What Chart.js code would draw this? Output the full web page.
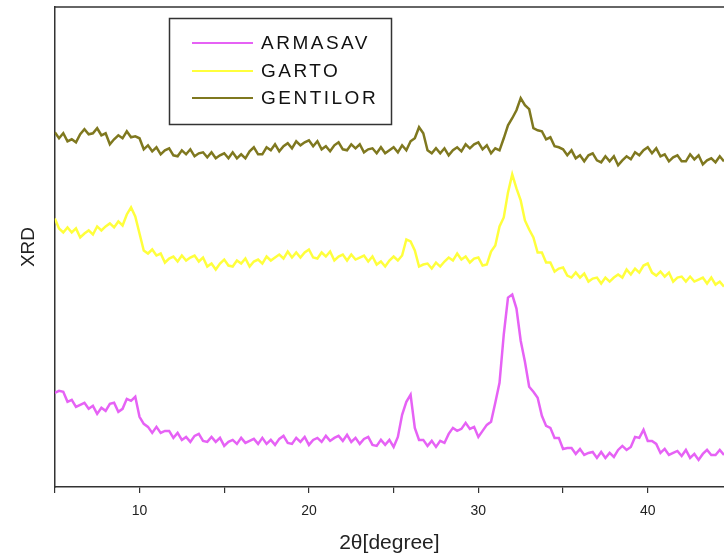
<!DOCTYPE html>
<html>
<head>
<meta charset="utf-8">
<script src="https://cdn.jsdelivr.net/npm/chart.js@4.4.0/dist/chart.umd.min.js"></script>
<style>
  html, body { margin: 0; padding: 0; background: #fff; }
  #wrap { width: 724px; height: 557px; }
</style>
</head>
<body>
<div id="wrap"><canvas id="myChart" width="724" height="557"></canvas></div>
<script>
// 2theta grid (degrees), 0.25 step
const twoTheta = [5, 5.25, 5.5, 5.75, 6, 6.25, 6.5, 6.75, 7, 7.25, 7.5, 7.75, 8, 8.25, 8.5, 8.75, 9, 9.25, 9.5, 9.75,
  10, 10.25, 10.5, 10.75, 11, 11.25, 11.5, 11.75, 12, 12.25, 12.5, 12.75, 13, 13.25, 13.5, 13.75, 14, 14.25, 14.5, 14.75,
  15, 15.25, 15.5, 15.75, 16, 16.25, 16.5, 16.75, 17, 17.25, 17.5, 17.75, 18, 18.25, 18.5, 18.75, 19, 19.25, 19.5, 19.75,
  20, 20.25, 20.5, 20.75, 21, 21.25, 21.5, 21.75, 22, 22.25, 22.5, 22.75, 23, 23.25, 23.5, 23.75, 24, 24.25, 24.5, 24.75,
  25, 25.25, 25.5, 25.75, 26, 26.25, 26.5, 26.75, 27, 27.25, 27.5, 27.75, 28, 28.25, 28.5, 28.75, 29, 29.25, 29.5, 29.75,
  30, 30.25, 30.5, 30.75, 31, 31.25, 31.5, 31.75, 32, 32.25, 32.5, 32.75, 33, 33.25, 33.5, 33.75, 34, 34.25, 34.5, 34.75,
  35, 35.25, 35.5, 35.75, 36, 36.25, 36.5, 36.75, 37, 37.25, 37.5, 37.75, 38, 38.25, 38.5, 38.75, 39, 39.25, 39.5, 39.75,
  40, 40.25, 40.5, 40.75, 41, 41.25, 41.5, 41.75, 42, 42.25, 42.5, 42.75, 43, 43.25, 43.5, 43.75, 44, 44.25, 44.5];

// intensities (arbitrary units, curves already offset as in the figure)
const armasav = [94, 96, 95, 85, 87, 80, 82, 84, 78, 81, 73, 79, 76, 83, 84, 75, 78, 88, 86, 90,
  70, 63, 60, 54, 60, 54, 56, 56, 49, 54, 47, 50, 45, 51, 53, 46, 45, 50, 45, 49,
  41, 45, 47, 43, 49, 44, 46, 48, 43, 49, 43, 47, 42, 48, 51, 44, 43, 49, 45, 50,
  42, 47, 49, 45, 51, 46, 49, 51, 46, 52, 45, 49, 43, 48, 50, 42, 41, 47, 42, 47,
  40, 50, 72, 85, 92, 59, 47, 47, 41, 46, 40, 46, 44, 53, 59, 56, 58, 64, 58, 60,
  50, 56, 62, 65, 84, 104, 152, 189, 192, 178, 146, 125, 100, 95, 89, 71, 61, 59, 49, 49,
  38, 39, 39, 33, 38, 32, 34, 35, 29, 35, 29, 34, 30, 37, 41, 37, 40, 50, 49, 57,
  46, 46, 43, 34, 38, 32, 34, 36, 31, 37, 29, 33, 27, 33, 37, 32, 32, 37, 32];

const garto = [268, 258, 254, 259, 254, 258, 249, 253, 256, 252, 260, 256, 260, 263, 259, 265, 261, 272, 279, 270,
  253, 236, 233, 237, 231, 233, 224, 228, 230, 225, 231, 226, 229, 231, 225, 229, 220, 223, 217, 223,
  227, 221, 220, 226, 223, 228, 220, 225, 227, 223, 230, 226, 229, 232, 228, 235, 229, 234, 229, 234,
  237, 229, 228, 234, 230, 235, 226, 230, 232, 226, 232, 227, 229, 231, 225, 230, 222, 225, 220, 226,
  230, 226, 231, 247, 245, 236, 220, 222, 223, 218, 224, 220, 225, 229, 226, 233, 227, 230, 224, 228,
  229, 221, 222, 235, 241, 260, 269, 294, 312, 298, 286, 266, 257, 249, 234, 234, 224, 224, 215, 218,
  219, 211, 209, 214, 209, 213, 205, 208, 209, 203, 209, 205, 209, 212, 209, 217, 212, 218, 214, 221,
  223, 214, 211, 215, 210, 214, 205, 209, 210, 205, 210, 205, 207, 209, 203, 209, 202, 205, 200];

const gentilor = [354, 348, 353, 345, 347, 344, 352, 357, 352, 353, 358, 351, 353, 342, 347, 351, 348, 355, 349, 350,
  348, 337, 341, 335, 339, 332, 336, 338, 331, 330, 336, 332, 337, 330, 333, 334, 329, 334, 328, 331,
  333, 328, 334, 328, 332, 328, 335, 339, 332, 332, 339, 336, 342, 335, 340, 343, 338, 345, 341, 344,
  346, 340, 345, 337, 340, 335, 341, 344, 337, 336, 342, 338, 342, 334, 337, 338, 333, 339, 333, 336,
  339, 334, 341, 336, 345, 348, 359, 353, 336, 333, 338, 333, 338, 331, 336, 339, 335, 342, 338, 342,
  344, 337, 341, 333, 338, 336, 348, 361, 368, 376, 388, 381, 377, 358, 356, 355, 347, 349, 340, 339,
  337, 331, 336, 328, 331, 325, 331, 333, 326, 324, 330, 325, 330, 321, 326, 330, 327, 334, 331, 336,
  339, 333, 338, 330, 332, 325, 329, 331, 325, 325, 332, 327, 331, 322, 326, 328, 324, 330, 325];

const seriesNames = ['ARMASAV', 'GARTO', 'GENTILOR'];
const seriesColors = ['#e662f5', '#ffff3c', '#7f781f'];
const xTicks = [10, 20, 30, 40];

function toPoints(arr) {
  return arr.map((v, i) => ({x: twoTheta[i], y: v}));
}

// frame line on top + boxed legend drawn like the original
const framePlugin = {
  id: 'framePlugin',
  afterDraw(chart) {
    const c = chart.ctx;
    const a = chart.chartArea;
    c.save();
    c.strokeStyle = '#333';
    c.lineWidth = 1.5;
    c.beginPath();
    c.moveTo(a.left, a.top);
    c.lineTo(a.right, a.top);
    c.stroke();

    // legend box
    c.lineWidth = 1.5;
    c.strokeStyle = '#333';
    c.strokeRect(169.5, 18.5, 222, 106);
    const rows = [43, 71, 98];
    chart.data.datasets.forEach((ds, i) => {
      c.strokeStyle = ds.borderColor;
      c.lineWidth = 2;
      c.beginPath();
      c.moveTo(192, rows[i]);
      c.lineTo(253, rows[i]);
      c.stroke();
      c.fillStyle = '#111';
      c.font = '19px "Liberation Sans", Arial, sans-serif';
      c.letterSpacing = '2.5px';
      c.textBaseline = 'middle';
      c.fillText(ds.label, 261, rows[i] + 1);
    });
    c.restore();
  }
};

const ctx = document.getElementById('myChart').getContext('2d');
const myChart = new Chart(ctx, {
  type: 'line',
  data: {
    datasets: [armasav, garto, gentilor].map((arr, i) => ({
      label: seriesNames[i],
      data: toPoints(arr),
      borderColor: seriesColors[i],
      backgroundColor: seriesColors[i],
      borderWidth: 2.5,
      pointRadius: 0,
      tension: 0,
      fill: false
    }))
  },
  options: {
    responsive: false,
    animation: false,
    layout: { padding: { top: 7, left: 10, right: 0, bottom: 1 } },
    plugins: {
      legend: { display: false },
      tooltip: { enabled: false }
    },
    scales: {
      x: {
        type: 'linear',
        min: 5,
        max: 44.5,
        border: { display: true, color: '#333', width: 1.5 },
        grid: { display: true, drawOnChartArea: false, drawTicks: true, tickLength: 6, color: '#333', lineWidth: 1.2 },
        ticks: {
          stepSize: 5,
          includeBounds: false,
          padding: 10,
          color: '#222',
          font: { family: '"Liberation Sans", Arial, sans-serif', size: 14 },
          maxRotation: 0,
          callback: (v) => xTicks.includes(v) ? String(v) : ''
        },
        title: {
          display: true,
          text: '2θ[degree]',
          color: '#222',
          font: { family: '"Liberation Sans", Arial, sans-serif', size: 21 },
          padding: { top: 1, bottom: 0 }
        }
      },
      y: {
        type: 'linear',
        min: 0,
        max: 479,
        border: { display: true, color: '#333', width: 1.5 },
        grid: { display: false, drawTicks: false },
        ticks: { display: false },
        title: {
          display: true,
          text: 'XRD',
          color: '#222',
          font: { family: '"Liberation Sans", Arial, sans-serif', size: 19 },
          padding: { top: 7, bottom: 15 }
        }
      }
    }
  },
  plugins: [framePlugin]
});
</script>
</body>
</html>
